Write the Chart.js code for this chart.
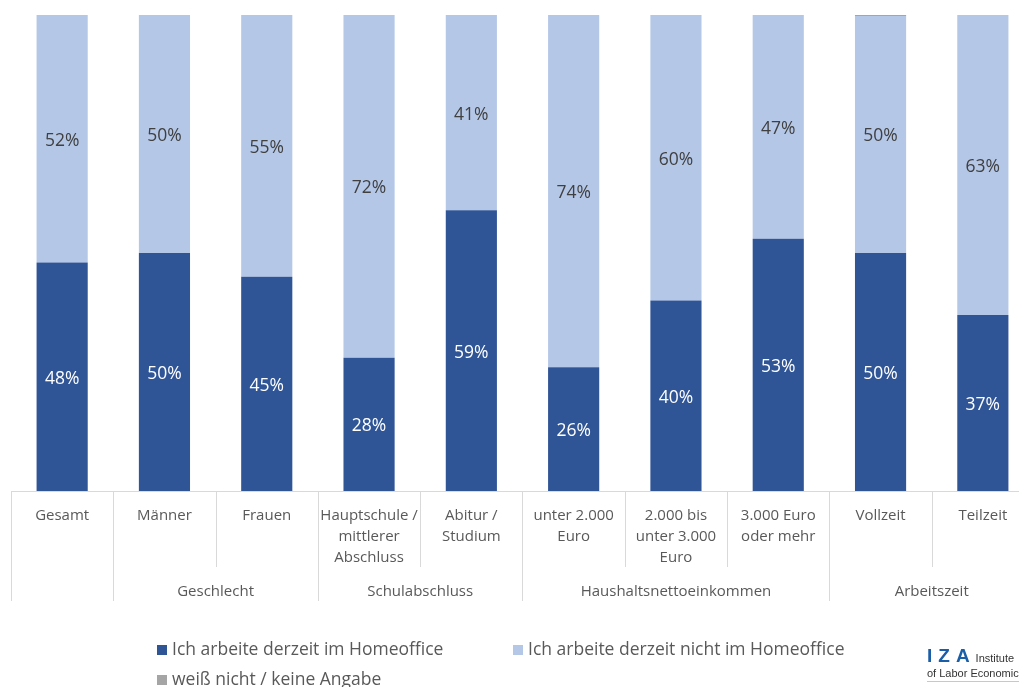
<!DOCTYPE html>
<html lang="de">
<head>
<meta charset="utf-8">
<title>Homeoffice</title>
<script src="https://cdn.jsdelivr.net/npm/chart.js@4.4.1/dist/chart.umd.min.js"></script>
<style>
  html, body { margin: 0; padding: 0; background: #fff; overflow: hidden; }
  #wrap { position: relative; width: 1046px; height: 687px; }
  #legende { position: absolute; left: 0; top: 0; width: 100%; height: 100%; pointer-events: none;
             font-family: "Open Sans", sans-serif; font-size: 17.5px; color: #595959; }
  .eintrag { position: absolute; white-space: nowrap; line-height: 20px; }
  .eintrag span.box { display: inline-block; width: 10px; height: 10px; margin-right: 5px; vertical-align: 0px; }
  #logo { position: absolute; left: 927px; top: 645px; font-family: "Liberation Sans", sans-serif; white-space: nowrap; }
  #logo .iza { color: #1b5ea8; font-size: 19px; font-weight: bold; letter-spacing: 6px; }
  #logo .klein { color: #333; font-size: 11px; }
  #logo .linie { width: 120px; border-top: 1px solid #c8c8c8; margin-top: 2px; }
</style>
</head>
<body>
<div id="wrap">
  <canvas id="grafica" width="1046" height="687"></canvas>
  <div id="legende"></div>
  <div id="logo">
    <div><span class="iza">IZA</span><span class="klein">Institute</span></div>
    <div class="klein">of Labor Economics</div>
    <div class="linie"></div>
  </div>
</div>
<script>
// Kategorien (mehrzeilige Beschriftung) und Gruppen der zweiten Achsenebene
var kategorien = [
  ["Gesamt"],
  ["Männer"],
  ["Frauen"],
  ["Hauptschule /", "mittlerer", "Abschluss"],
  ["Abitur /", "Studium"],
  ["unter 2.000", "Euro"],
  ["2.000 bis", "unter 3.000", "Euro"],
  ["3.000 Euro", "oder mehr"],
  ["Vollzeit"],
  ["Teilzeit"]
];
var gruppenNamen = ["", "Geschlecht", "Schulabschluss", "Haushaltsnettoeinkommen", "Arbeitszeit"];
var gruppenStart = [0, 1, 3, 5, 8];
var gruppenEnde  = [0, 2, 4, 7, 9];

// Anteile in Prozent
var homeoffice      = [48, 50, 45, 28, 59, 26, 40, 53, 50, 37];
var nichtHomeoffice = [52, 50, 55, 72, 41, 74, 60, 47, 49.8, 63];
var weissNicht      = [0, 0, 0, 0, 0, 0, 0, 0, 0.2, 0];

var serienNamen = ["Ich arbeite derzeit im Homeoffice", "Ich arbeite derzeit nicht im Homeoffice", "weiß nicht / keine Angabe"];
var farben = ["#2F5597", "#B4C7E7", "#A5A5A5"];

var schrift = '"Open Sans", sans-serif';
var textGrau = "#595959";
var linienGrau = "#D9D9D9";

// Prozentwerte mittig in die Balken schreiben
var wertBeschriftung = {
  id: "wertBeschriftung",
  afterDatasetsDraw: function(chart) {
    var ctx = chart.ctx;
    ctx.save();
    ctx.font = "17.5px " + schrift;
    ctx.textAlign = "center";
    ctx.textBaseline = "middle";
    [0, 1].forEach(function(d) {
      var meta = chart.getDatasetMeta(d);
      ctx.fillStyle = d === 0 ? "#FFFFFF" : "#404040";
      meta.data.forEach(function(bar, i) {
        var v = chart.data.datasets[d].data[i];
        if (v < 1) return;
        var p = bar.getProps(["x", "y", "base"], true);
        ctx.fillText(Math.round(v) + "%", p.x, (p.y + p.base) / 2 + 2);
      });
    });
    ctx.restore();
  }
};

// Trennlinien unter der Achse und Gruppenbeschriftung
var achsenGruppen = {
  id: "achsenGruppen",
  afterDraw: function(chart) {
    var ctx = chart.ctx;
    var xs = chart.scales.x;
    var unten = chart.chartArea.bottom;
    var breite = xs.getPixelForValue(1) - xs.getPixelForValue(0);
    ctx.save();
    ctx.strokeStyle = linienGrau;
    ctx.lineWidth = 1;
    for (var i = 0; i <= kategorien.length; i++) {
      var x = xs.getPixelForValue(0) - breite / 2 + i * breite;
      var lang = gruppenStart.indexOf(i) >= 0 || i === kategorien.length;
      ctx.beginPath();
      ctx.moveTo(Math.round(x) + 0.5, unten);
      ctx.lineTo(Math.round(x) + 0.5, unten + (lang ? 110 : 76));
      ctx.stroke();
    }
    ctx.fillStyle = textGrau;
    ctx.font = "15px " + schrift;
    ctx.textAlign = "center";
    ctx.textBaseline = "middle";
    gruppenNamen.forEach(function(name, g) {
      if (!name) return;
      var mitte = (xs.getPixelForValue(gruppenStart[g]) + xs.getPixelForValue(gruppenEnde[g])) / 2;
      ctx.fillText(name, mitte, unten + 101);
    });
    ctx.restore();
  }
};

var reihen = [homeoffice, nichtHomeoffice, weissNicht];
var datasets = reihen.map(function(werte, d) {
  return {
    label: serienNamen[d],
    data: werte,
    backgroundColor: farben[d],
    borderWidth: 0,
    categoryPercentage: 1.0,
    barPercentage: 0.5
  };
});

var grafica = new Chart(document.getElementById("grafica").getContext("2d"), {
  type: "bar",
  data: { labels: kategorien, datasets: datasets },
  plugins: [wertBeschriftung, achsenGruppen],
  options: {
    responsive: false,
    animation: false,
    layout: { padding: { left: 11, right: 12, top: 15, bottom: 0 } },
    plugins: { legend: { display: false }, tooltip: { enabled: false } },
    scales: {
      x: {
        stacked: true,
        grid: { display: false, drawTicks: false },
        border: { display: true, color: linienGrau, width: 1 },
        ticks: {
          color: textGrau,
          padding: 14,
          maxRotation: 0,
          autoSkip: false,
          font: { family: schrift, size: 15, lineHeight: 1.4 }
        },
        afterFit: function(scale) { scale.height = 196; }
      },
      y: { stacked: true, display: false, min: 0, max: 100 }
    }
  }
});

// Legende
var legende = document.getElementById("legende");
var orte = [[157, 638], [513, 638], [157, 668]];
datasets.forEach(function(ds, d) {
  var e = document.createElement("div");
  e.className = "eintrag";
  e.style.left = orte[d][0] + "px";
  e.style.top = orte[d][1] + "px";
  e.innerHTML = '<span class="box" style="background:' + ds.backgroundColor + '"></span>' + ds.label;
  legende.appendChild(e);
});
</script>
</body>
</html>
